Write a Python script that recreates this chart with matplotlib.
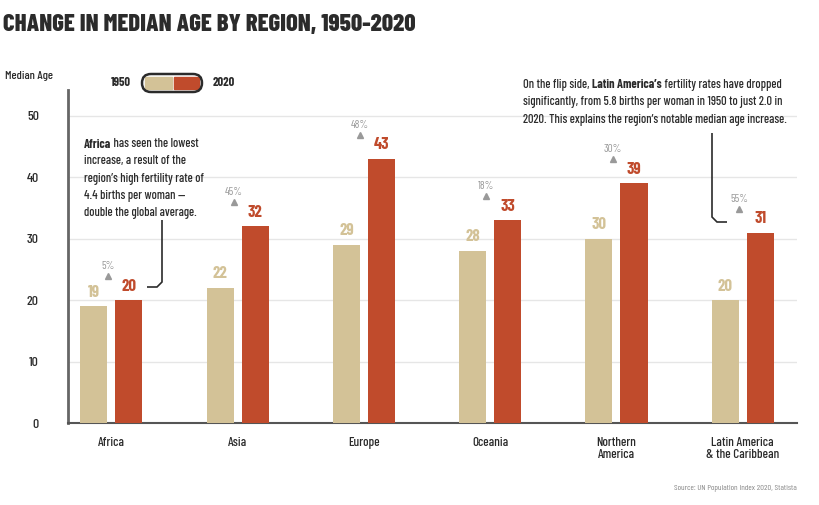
import matplotlib.pyplot as plt
from matplotlib.patches import FancyBboxPatch, Rectangle, PathPatch
from matplotlib.path import Path

plt.rcParams['font.family'] = ['Barlow Condensed', 'Fira Sans Extra Condensed', 'DejaVu Sans']
plt.rcParams['font.weight'] = 500

regions = ['Africa', 'Asia', 'Europe', 'Oceania', 'Northern\nAmerica', 'Latin America\n& the Caribbean']
age_1950 = [19, 22, 29, 28, 30, 20]
age_2020 = [20, 32, 43, 33, 39, 31]
pct_change = ['5%', '45%', '48%', '18%', '30%', '55%']
yticks = [0, 10, 20, 30, 40, 50]

c1950 = '#d3c297'
c2020 = '#c04b2c'
dark = '#2b2b2b'
W, H = 820, 505

fig = plt.figure(figsize=(8.2, 5.05), dpi=100)
renderer = fig.canvas.get_renderer()


def fit_size(txt, target_px, weight=500):
    # font size that gives the text the width it has in the reference
    t = fig.text(0, 0, txt, fontsize=10, fontweight=weight)
    wpx = t.get_window_extent(renderer).width
    t.remove()
    return 10*target_px/wpx


title_size = fit_size('CHANGE IN MEDIAN AGE BY REGION, 1950-2020', 410, 800)
note_size = fit_size('2020. This explains the region’s notable median age increase.', 264)
tick_size = fit_size('Latin America', 63)
value_size = fit_size('20', 15, 'bold')
pct_size = fit_size('45%', 18, 400)
label_size = fit_size('Median Age', 48)
legend_size = fit_size('1950', 20, 'bold')
source_size = fit_size('Source: UN Population Index 2020, Statista', 123, 400)

ax = fig.add_axes([68/W, 1-423/H, (797-68)/W, (423-90)/H])

x = list(range(len(regions)))
w = 0.214
off = 0.139
ax.bar([i - off for i in x], age_1950, width=w, color=c1950, zorder=3)
ax.bar([i + off for i in x], age_2020, width=w, color=c2020, zorder=3)

px = 10/61.4  # data units per pixel (y)
for i in x:
    ax.text(i - off, age_1950[i] + 14*px, str(age_1950[i]), color=c1950,
            ha='center', va='center', fontsize=value_size, fontweight='bold')
    ax.text(i + off, age_2020[i] + 14*px, str(age_2020[i]), color=c2020,
            ha='center', va='center', fontsize=value_size, fontweight='bold')
    ax.plot(i - 0.03, age_2020[i] + 24*px, marker='^', color='#999999', markersize=5, zorder=4)
    ax.text(i - 0.03, age_2020[i] + 34*px, pct_change[i], color='#999999',
            ha='center', va='center', fontsize=pct_size, fontweight=400)

ax.set_xlim(-0.344, 5.43)
ax.set_ylim(0, 54.2)
ax.set_yticks(yticks)
ax.set_yticklabels([str(t) for t in yticks], fontsize=tick_size*1.05, color=dark)
ax.set_xticks(x)
ax.set_xticklabels(regions, fontsize=tick_size, color=dark, linespacing=1.0)
ax.tick_params(axis='both', length=0)
ax.tick_params(axis='y', pad=21)
ax.tick_params(axis='x', pad=10)
ax.grid(axis='y', color='#e6e6e6', linewidth=1, zorder=0)
for s in ['top', 'right']:
    ax.spines[s].set_visible(False)
ax.spines['left'].set_color('#666666')
ax.spines['left'].set_linewidth(2)
ax.spines['bottom'].set_color('#555555')
ax.spines['bottom'].set_linewidth(1.5)

# title and labels
fig.text(3/W, 1-25/H, 'CHANGE IN MEDIAN AGE BY REGION, 1950-2020', fontsize=title_size,
         fontweight=800, color=dark, va='center', ha='left')
fig.text(5/W, 1-76/H, 'Median Age', fontsize=label_size, color=dark, va='center', ha='left')
fig.text(797/W, 1-488/H, 'Source: UN Population Index 2020, Statista', fontsize=source_size,
         color='#888888', va='center', ha='right', fontweight=400)

# legend pill
fig.text(131/W, 1-83/H, '1950', fontsize=legend_size, fontweight='bold', color=dark, va='center', ha='right')
fig.text(213/W, 1-83/H, '2020', fontsize=legend_size, fontweight='bold', color=dark, va='center', ha='left')
lx0, lx1, ly0, ly1 = 142/W, 202/W, 1-92/H, 1-74/H
fig.patches.append(Rectangle((lx0 + 3/W, ly0 + 3/H), 27/W, ly1 - ly0 - 6/H,
                             transform=fig.transFigure, color=c1950))
fig.patches.append(Rectangle((lx0 + 32/W, ly0 + 3/H), 25/W, ly1 - ly0 - 6/H,
                             transform=fig.transFigure, color=c2020))
fig.patches.append(FancyBboxPatch((lx0, ly0), lx1 - lx0, ly1 - ly0,
                                  boxstyle='round,pad=0,rounding_size=0.011', mutation_aspect=W/H,
                                  transform=fig.transFigure, fill=False, edgecolor=dark, linewidth=1.8))


def fpx(xp, yp):
    return (xp/W, 1-yp/H)


def connector(pts):
    verts = [fpx(*p) for p in pts]
    codes = [Path.MOVETO] + [Path.LINETO]*(len(verts)-1)
    fig.patches.append(PathPatch(Path(verts, codes), transform=fig.transFigure,
                                 fill=False, edgecolor=dark, linewidth=1.2))


def mixed_line(xp, yp, parts):
    # parts: list of (text, bold)
    cur = xp/W
    for txt, bold in parts:
        t = fig.text(cur, 1-yp/H, txt, fontsize=note_size, color=dark, va='center', ha='left',
                     fontweight='bold' if bold else 500)
        cur = fig.transFigure.inverted().transform((t.get_window_extent(renderer).x1, 0))[0]


# Africa annotation
africa_lines = ['increase, a result of the', 'region’s high fertility rate of',
                '4.4 births per woman —', 'double the global average.']
mixed_line(84, 144, [('Africa', True), (' has seen the lowest', False)])
for k, line in enumerate(africa_lines):
    fig.text(84/W, 1-(144 + 17.3*(k+1))/H, line, fontsize=note_size, color=dark, va='center', ha='left')
connector([(162, 220), (162, 282), (157, 287), (147, 287)])

# Latin America annotation
mixed_line(523, 85, [('On the flip side, ', False), ('Latin America’s', True), (' fertility rates have dropped', False)])
fig.text(523/W, 1-102.5/H, 'significantly, from 5.8 births per woman in 1950 to just 2.0 in',
         fontsize=note_size, color=dark, va='center', ha='left')
fig.text(523/W, 1-120/H, '2020. This explains the region’s notable median age increase.',
         fontsize=note_size, color=dark, va='center', ha='left')
connector([(712, 133), (712, 217), (717, 222), (727, 222)])

fig.savefig('out.png', dpi=100)
